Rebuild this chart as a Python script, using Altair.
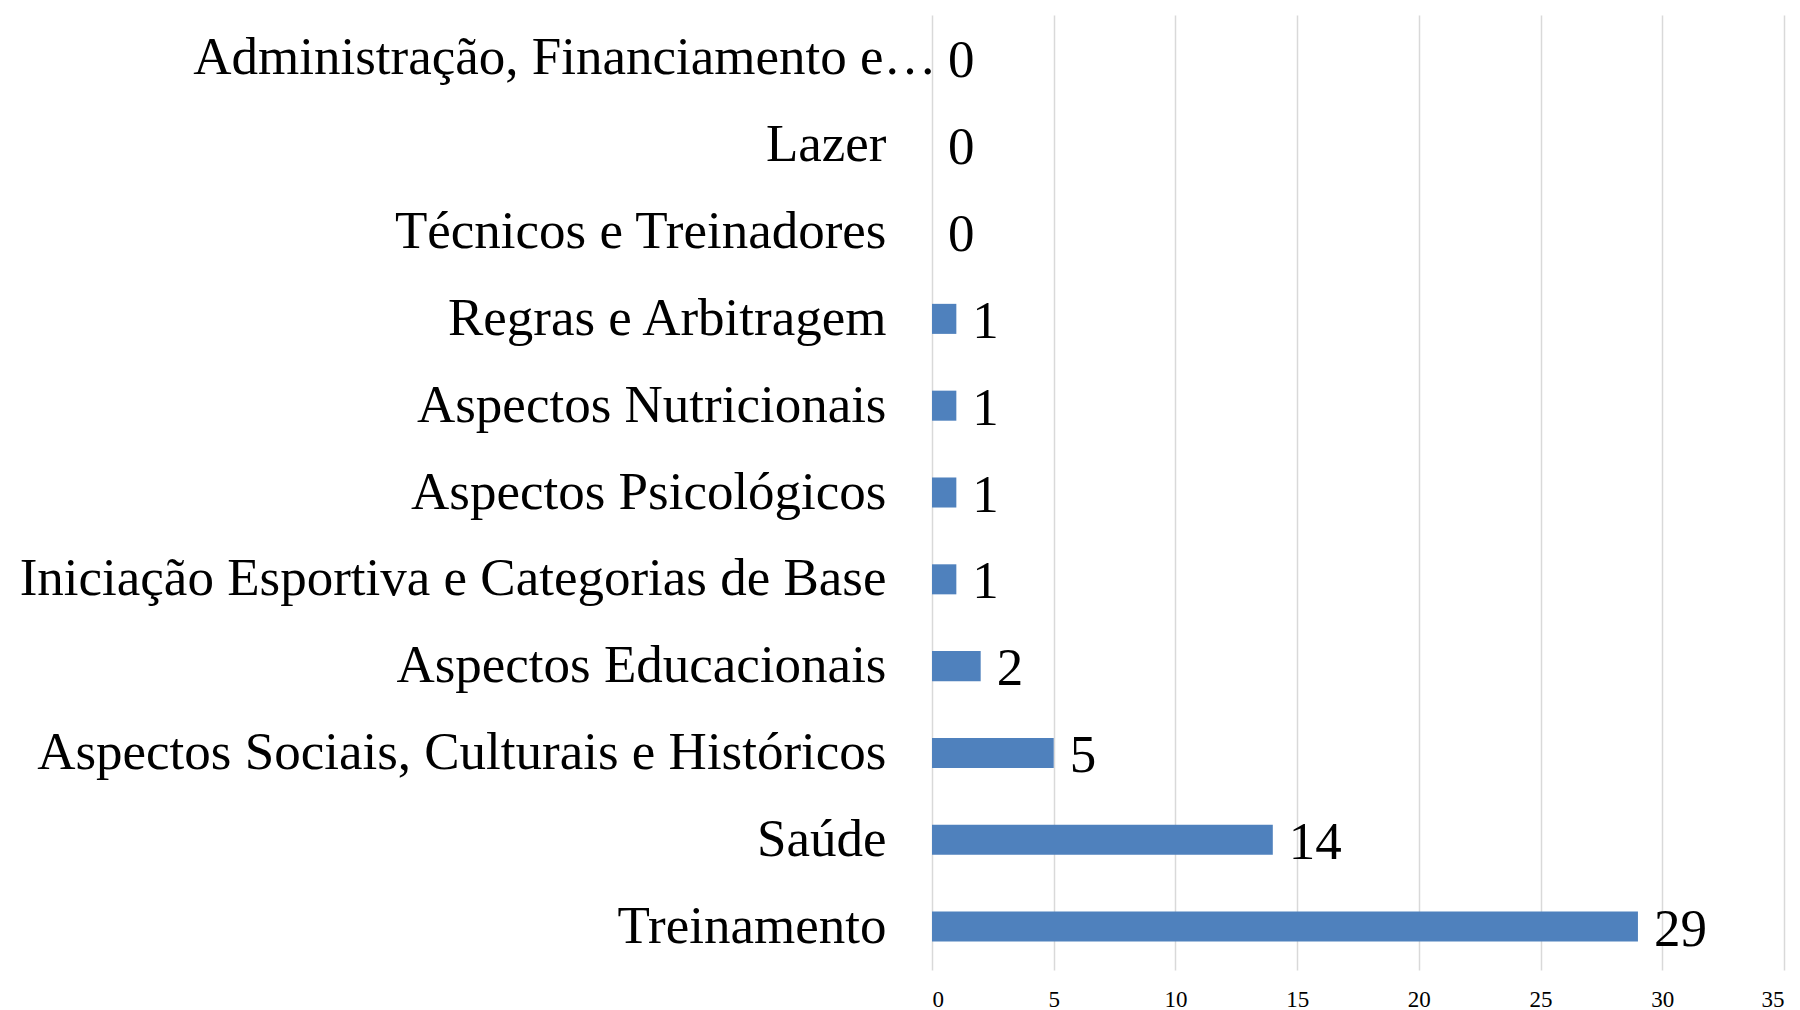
import altair as alt
import pandas as pd

categories = [
    "Administração, Financiamento e…",
    "Lazer",
    "Técnicos e Treinadores",
    "Regras e Arbitragem",
    "Aspectos Nutricionais",
    "Aspectos Psicológicos",
    "Iniciação Esportiva e Categorias de Base",
    "Aspectos Educacionais",
    "Aspectos Sociais, Culturais e Históricos",
    "Saúde",
    "Treinamento",
]
values = [0, 0, 0, 1, 1, 1, 1, 2, 5, 14, 29]
x_ticks = [0, 5, 10, 15, 20, 25, 30, 35]

df = pd.DataFrame({"categoria": categories, "valor": values})

FONT = "Liberation Serif"

y_enc = alt.Y(
    "categoria:N",
    sort=categories,
    scale=alt.Scale(paddingInner=0.654, paddingOuter=0.327),
    axis=alt.Axis(
        title=None,
        domain=False,
        ticks=False,
        grid=False,
        labelFont=FONT,
        labelFontSize=53,
        labelColor="#000000",
        labelLimit=2000,
        labelPadding={
            "condition": {"test": "datum.value == 'Administração, Financiamento e…'", "value": -4},
            "value": 46,
        },
    ),
)

x_enc = alt.X(
    "valor:Q",
    scale=alt.Scale(domain=[0, 35], nice=False),
    axis=alt.Axis(
        title=None,
        values=x_ticks,
        domain=False,
        ticks=False,
        grid=True,
        gridColor="#d9d9d9",
        gridWidth=1.5,
        labelFont=FONT,
        labelFontSize=23,
        labelColor="#000000",
        labelPadding=18,
    ),
)

bars = alt.Chart(df).mark_bar(color="#4f81bd").encode(x=x_enc, y=y_enc)

labels = alt.Chart(df).mark_text(
    align="left", baseline="middle", dx=16, dy=3, font=FONT, fontSize=53, color="#000000"
).encode(
    x=alt.X("valor:Q"),
    y=alt.Y("categoria:N", sort=categories),
    text=alt.Text("valor:Q"),
)

chart = (
    alt.layer(bars, labels)
    .properties(
        width=852,
        height=955,
        background="#ffffff",
        padding={"left": 11, "top": 7, "right": 5, "bottom": 5},
    )
    .configure_view(strokeWidth=0)
)

chart.save("out.html", embed_options={"renderer": "svg", "actions": False})
